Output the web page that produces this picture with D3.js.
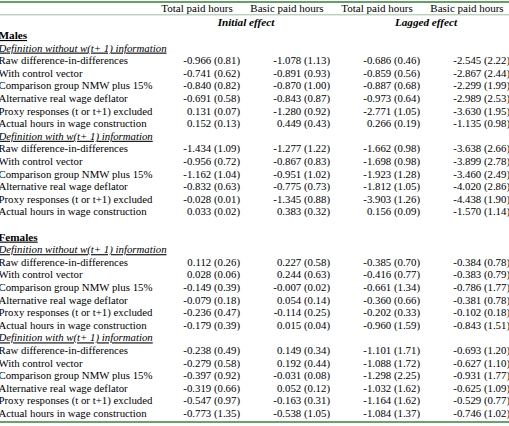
<!DOCTYPE html>
<html>
<head>
<meta charset="utf-8">
<script src="https://cdn.jsdelivr.net/npm/d3@7"></script>
<style>
	body { margin: 0; background: #fff; }
	text { font-family: 'Liberation Serif', 'Times New Roman', serif; font-size: 10.8px; fill: #000; }
	text.colhead { font-size: 11px; }
	text.effect { font-size: 11.2px; font-weight: bold; font-style: italic; }
</style>
</head>
<body>
<div id="draw"></div>
<script>
// column headers
const colHeaders = ['Total paid hours', 'Basic paid hours', 'Total paid hours', 'Basic paid hours'];
const effectHeaders = ['Initial effect', 'Lagged effect'];
const groupLabels = ['Males', 'Females'];
const defLabels = ['Definition without w(t+ 1) information', 'Definition with w(t+ 1) information'];
const specLabels = [
	'Raw difference-in-differences',
	'With control vector',
	'Comparison group NMW plus 15%',
	'Alternative real wage deflator',
	'Proxy responses (t or t+1) excluded',
	'Actual hours in wage construction'
];

// [estimate, standard error] per column
const malesWithout = [
	[[-0.966, 0.81], [-1.078, 1.13], [-0.686, 0.46], [-2.545, 2.22]],
	[[-0.741, 0.62], [-0.891, 0.93], [-0.859, 0.56], [-2.867, 2.44]],
	[[-0.840, 0.82], [-0.870, 1.00], [-0.887, 0.68], [-2.299, 1.99]],
	[[-0.691, 0.58], [-0.843, 0.87], [-0.973, 0.64], [-2.989, 2.53]],
	[[0.131, 0.07], [-1.280, 0.92], [-2.771, 1.05], [-3.630, 1.95]],
	[[0.152, 0.13], [0.449, 0.43], [0.266, 0.19], [-1.135, 0.98]]
];
const malesWith = [
	[[-1.434, 1.09], [-1.277, 1.22], [-1.662, 0.98], [-3.638, 2.66]],
	[[-0.956, 0.72], [-0.867, 0.83], [-1.698, 0.98], [-3.899, 2.78]],
	[[-1.162, 1.04], [-0.951, 1.02], [-1.923, 1.28], [-3.460, 2.49]],
	[[-0.832, 0.63], [-0.775, 0.73], [-1.812, 1.05], [-4.020, 2.86]],
	[[-0.028, 0.01], [-1.345, 0.88], [-3.903, 1.26], [-4.438, 1.90]],
	[[0.033, 0.02], [0.383, 0.32], [0.156, 0.09], [-1.570, 1.14]]
];
const femalesWithout = [
	[[0.112, 0.26], [0.227, 0.58], [-0.385, 0.70], [-0.384, 0.78]],
	[[0.028, 0.06], [0.244, 0.63], [-0.416, 0.77], [-0.383, 0.79]],
	[[-0.149, 0.39], [-0.007, 0.02], [-0.661, 1.34], [-0.786, 1.77]],
	[[-0.079, 0.18], [0.054, 0.14], [-0.360, 0.66], [-0.381, 0.78]],
	[[-0.236, 0.47], [-0.114, 0.25], [-0.202, 0.33], [-0.102, 0.18]],
	[[-0.179, 0.39], [0.015, 0.04], [-0.960, 1.59], [-0.843, 1.51]]
];
const femalesWith = [
	[[-0.238, 0.49], [0.149, 0.34], [-1.101, 1.71], [-0.693, 1.20]],
	[[-0.279, 0.58], [0.192, 0.44], [-1.088, 1.72], [-0.627, 1.10]],
	[[-0.397, 0.92], [-0.031, 0.08], [-1.298, 2.25], [-0.931, 1.77]],
	[[-0.319, 0.66], [0.052, 0.12], [-1.032, 1.62], [-0.625, 1.09]],
	[[-0.547, 0.97], [-0.163, 0.31], [-1.164, 1.62], [-0.529, 0.77]],
	[[-0.773, 1.35], [-0.538, 1.05], [-1.084, 1.37], [-0.746, 1.02]]
];

var width = 509,
	height = 426;

var svg = d3
	.select('#draw')
	.append('svg')
	.attr('width', width)
	.attr('height', height);

// build the row list
var rows = [];
rows.push({ type: 'effect' });
[
	[malesWithout, malesWith],
	[femalesWithout, femalesWith]
].forEach(function (blocks, g) {
	if (g > 0) rows.push({ type: 'blank' });
	rows.push({ type: 'group', label: groupLabels[g] });
	blocks.forEach(function (block, d) {
		rows.push({ type: 'def', label: defLabels[d] });
		block.forEach(function (vals, s) {
			rows.push({ type: 'data', label: specLabels[s], vals: vals });
		});
	});
});

// row baselines
var y = d3
	.scaleLinear()
	.domain([0, rows.length - 1])
	.range([26.4, 26.4 + 12.6 * (rows.length - 1)]);

// columns
var x = d3.scaleBand().domain(d3.range(4)).range([153, 513]);
var leftX = -1.5;

// rules
svg.append('line').attr('x1', 0).attr('x2', width).attr('y1', 2).attr('y2', 2)
	.attr('stroke', '#2f7f35').attr('stroke-width', 1.4);
svg.append('line').attr('x1', 0).attr('x2', width).attr('y1', 14.8).attr('y2', 14.8)
	.attr('stroke', '#9fbf9f').attr('stroke-width', 1);
svg.append('line').attr('x1', 0).attr('x2', width).attr('y1', 422).attr('y2', 422)
	.attr('stroke', '#2f8a35').attr('stroke-width', 1.4);

// column headers
svg.selectAll('.colhead')
	.data(colHeaders)
	.enter()
	.append('text')
	.attr('class', 'colhead')
	.attr('x', function (d, i) { return x(i) + x.bandwidth() / 2 - 1; })
	.attr('y', 12)
	.attr('text-anchor', 'middle')
	.text(function (d) { return d; });

svg.selectAll('.effect')
	.data(effectHeaders)
	.enter()
	.append('text')
	.attr('class', 'effect')
	.attr('x', function (d, i) { return x(i * 2) + x.bandwidth() + 3; })
	.attr('y', y(0))
	.attr('text-anchor', 'middle')
	.text(function (d) { return d; });

var fmt = function (v) {
	return v[0].toFixed(3) + ' (' + v[1].toFixed(2) + ')';
};

rows.forEach(function (r, i) {
	if (r.type === 'group') {
		svg.append('text').attr('x', leftX).attr('y', y(i))
			.style('font-weight', 'bold')
			.style('font-size', '11.2px')
			.style('text-decoration', 'underline')
			.text(r.label);
	} else if (r.type === 'def') {
		svg.append('text').attr('x', leftX).attr('y', y(i))
			.style('font-style', 'italic')
			.style('text-decoration', 'underline')
			.text(r.label);
	} else if (r.type === 'data') {
		svg.append('text').attr('x', leftX).attr('y', y(i)).text(r.label);
		svg.selectAll('.v' + i)
			.data(r.vals)
			.enter()
			.append('text')
			.attr('x', function (d, j) { return x(j) + x.bandwidth() - 3; })
			.attr('y', y(i))
			.attr('text-anchor', 'end')
			.text(fmt);
	}
});
</script>
</body>
</html>
